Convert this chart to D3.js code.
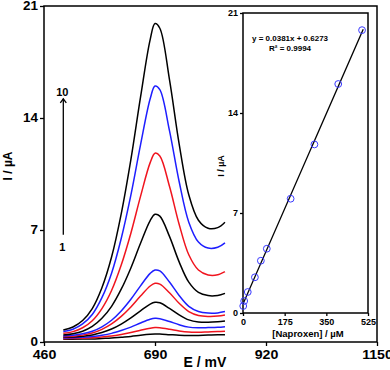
<!DOCTYPE html>
<html>
<head>
<meta charset="utf-8">
<script src="https://cdnjs.cloudflare.com/ajax/libs/d3/7.8.5/d3.min.js"></script>
<style>
body { margin: 0; background: #fff; }
text { font-family: Arial, "Liberation Sans", sans-serif; font-weight: bold; fill: #000; }
</style>
</head>
<body>
<div id="chart"></div>
<script>
// DPV curves, E in mV, I in uA (curve 1 = lowest ... curve 10 = highest)
var potentials = [500, 520, 540, 560, 580, 600, 620, 640, 660, 680, 690, 700, 720, 740, 760, 780, 800, 820, 835];
var curve1  = [0.17, 0.17, 0.18, 0.19, 0.22, 0.25, 0.30, 0.35, 0.42, 0.48, 0.50, 0.50, 0.46, 0.42, 0.40, 0.41, 0.43, 0.45, 0.46];
var curve2  = [0.21, 0.22, 0.23, 0.26, 0.31, 0.37, 0.47, 0.59, 0.73, 0.86, 0.90, 0.89, 0.80, 0.69, 0.62, 0.61, 0.63, 0.65, 0.67];
var curve3  = [0.25, 0.26, 0.29, 0.34, 0.42, 0.54, 0.72, 0.93, 1.19, 1.42, 1.48, 1.46, 1.28, 1.08, 0.93, 0.89, 0.90, 0.92, 0.96];
var curve4  = [0.29, 0.31, 0.36, 0.44, 0.59, 0.81, 1.12, 1.51, 1.95, 2.37, 2.48, 2.45, 2.10, 1.70, 1.38, 1.25, 1.23, 1.26, 1.31];
var curve5  = [0.33, 0.36, 0.43, 0.56, 0.79, 1.13, 1.60, 2.19, 2.87, 3.50, 3.67, 3.62, 3.08, 2.42, 1.90, 1.66, 1.60, 1.62, 1.69];
var curve6  = [0.38, 0.42, 0.51, 0.67, 0.95, 1.36, 1.94, 2.67, 3.51, 4.29, 4.50, 4.44, 3.75, 2.91, 2.23, 1.91, 1.81, 1.82, 1.90];
var curve7  = [0.44, 0.52, 0.67, 0.97, 1.48, 2.23, 3.30, 4.63, 6.17, 7.59, 7.98, 7.87, 6.60, 5.01, 3.74, 3.10, 2.90, 2.91, 3.04];
var curve8  = [0.54, 0.65, 0.89, 1.33, 2.09, 3.22, 4.81, 6.80, 9.10, 11.21, 11.80, 11.63, 9.73, 7.36, 5.45, 4.50, 4.19, 4.20, 4.40];
var curve9  = [0.65, 0.80, 1.13, 1.72, 2.77, 4.30, 6.47, 9.18, 12.32, 15.20, 16.00, 15.77, 13.21, 10.03, 7.49, 6.25, 5.87, 5.92, 6.20];
var curve10 = [0.75, 0.94, 1.34, 2.09, 3.39, 5.31, 8.01, 11.40, 15.30, 18.90, 19.90, 19.61, 16.40, 12.39, 9.20, 7.61, 7.11, 7.15, 7.49];
var curves = [curve1, curve2, curve3, curve4, curve5, curve6, curve7, curve8, curve9, curve10];

var xTicks = [460, 690, 920, 1150];
var yTicks = [0, 7, 14, 21];

// calibration inset
var concentrations = [1, 5, 20, 50, 75, 100, 200, 300, 400, 500];
var peakCurrents = [0.49, 0.84, 1.47, 2.5, 3.66, 4.5, 8.0, 11.8, 16.03, 19.8];
var insetXTicks = [0, 175, 350, 525];
var insetYTicks = [0, 7, 14, 21];
var fitSlope = 0.0381;
var fitIntercept = 0.6273;
var fitR2 = 0.9994;

var width = 390, height = 370;
var color = d3.scaleOrdinal().domain(d3.range(10))
    .range(["#000", "#f0141e", "#1e1eff", "#000", "#f0141e", "#1e1eff", "#000", "#f0141e", "#1e1eff", "#000"]);

var svg = d3.select("#chart").append("svg")
    .attr("width", width)
    .attr("height", height);

var x = d3.scaleLinear().domain([460, 1150]).range([44, 377]);
var y = d3.scaleLinear().domain([0, 21]).range([342, 6]);

function styleAxis(g, size) {
    g.select(".domain").remove();
    g.selectAll(".tick line").attr("stroke", "#000").attr("stroke-width", 1.3);
    g.selectAll(".tick text").style("font-size", size + "px");
}

// widen text a little, the source figure is stretched horizontally
function stretch(sel, k) {
    sel.each(function() {
        var w = this.getComputedTextLength();
        d3.select(this).attr("textLength", w * k).attr("lengthAdjust", "spacingAndGlyphs");
    });
}

// main frame
svg.append("rect")
    .attr("x", x(460)).attr("y", y(21))
    .attr("width", x(1150) - x(460)).attr("height", y(0) - y(21))
    .attr("fill", "none").attr("stroke", "#000").attr("stroke-width", 1.5);

var yAxis = svg.append("g")
    .attr("transform", "translate(" + x(460) + ",0)")
    .call(d3.axisLeft(y).tickValues(yTicks).tickSize(4).tickPadding(2))
    .call(styleAxis, 12);

var xAxis = svg.append("g")
    .attr("transform", "translate(0," + y(0) + ")")
    .call(d3.axisBottom(x).tickValues(xTicks).tickFormat(d3.format("d")).tickSize(4).tickPadding(4))
    .call(styleAxis, 12);

stretch(yAxis.selectAll(".tick text"), 1.12);
stretch(xAxis.selectAll(".tick text"), 1.18);

var line = d3.line()
    .x(function(d, i) { return x(potentials[i]); })
    .y(function(d) { return y(d); })
    .curve(d3.curveCatmullRom.alpha(0.5));

svg.append("g").selectAll("path")
    .data(curves)
    .enter().append("path")
    .attr("d", line)
    .attr("fill", "none")
    .attr("stroke", function(d, i) { return color(i); })
    .attr("stroke-width", 1.5);

// arrow 1 -> 10
var ax = x(500);
svg.append("line")
    .attr("x1", ax).attr("x2", ax)
    .attr("y1", y(6.7)).attr("y2", y(15.2))
    .attr("stroke", "#000").attr("stroke-width", 1.3);
svg.append("path")
    .attr("d", "M" + (ax - 3) + "," + (y(15.2) + 4) + "L" + ax + "," + y(15.2) + "L" + (ax + 3) + "," + (y(15.2) + 4))
    .attr("fill", "none").attr("stroke", "#000").attr("stroke-width", 1.3);
svg.append("text").attr("x", ax - 1).attr("y", y(15.2) - 3)
    .attr("text-anchor", "middle").style("font-size", "11px").text("10");
svg.append("text").attr("x", ax - 1).attr("y", y(6.7) + 16)
    .attr("text-anchor", "middle").style("font-size", "11px").text("1");

// axis titles
svg.append("text")
    .attr("x", 205).attr("y", 367)
    .attr("text-anchor", "middle").style("font-size", "14px")
    .text("E / mV");
svg.append("text")
    .attr("transform", "translate(12,166) rotate(-90)")
    .attr("text-anchor", "middle").style("font-size", "12px")
    .text("I / µA");

// inset
var ix = d3.scaleLinear().domain([0, 525]).range([243, 368]);
var iy = d3.scaleLinear().domain([0, 21]).range([313, 13]);

svg.append("rect")
    .attr("x", ix(0)).attr("y", iy(21))
    .attr("width", ix(525) - ix(0)).attr("height", iy(0) - iy(21))
    .attr("fill", "#fff").attr("stroke", "#000").attr("stroke-width", 1.5);

svg.append("g")
    .attr("transform", "translate(" + ix(0) + ",0)")
    .call(d3.axisLeft(iy).tickValues(insetYTicks).tickSize(3).tickPadding(2))
    .call(styleAxis, 9);

svg.append("g")
    .attr("transform", "translate(0," + iy(0) + ")")
    .call(d3.axisBottom(ix).tickValues(insetXTicks).tickSize(3).tickPadding(3))
    .call(styleAxis, 9);

svg.append("line")
    .attr("x1", ix(0)).attr("y1", iy(fitIntercept))
    .attr("x2", ix(505)).attr("y2", iy(fitSlope * 505 + fitIntercept))
    .attr("stroke", "#000").attr("stroke-width", 1.3);

svg.append("g").selectAll("circle")
    .data(concentrations)
    .enter().append("circle")
    .attr("cx", function(d) { return ix(d); })
    .attr("cy", function(d, i) { return iy(peakCurrents[i]); })
    .attr("r", 3.4)
    .attr("fill", "none")
    .attr("stroke", "#3a3aff")
    .attr("stroke-width", 1);

svg.append("text")
    .attr("x", 252).attr("y", 41)
    .style("font-size", "8px")
    .text("y = " + fitSlope + "x + " + fitIntercept);
svg.append("text")
    .attr("x", 269).attr("y", 51)
    .style("font-size", "8px")
    .text("R² = " + fitR2);

svg.append("text")
    .attr("x", 308).attr("y", 337)
    .attr("text-anchor", "middle").style("font-size", "9.5px")
    .text("[Naproxen] / µM");
svg.append("text")
    .attr("transform", "translate(224,166) rotate(-90)")
    .attr("text-anchor", "middle").style("font-size", "9px")
    .text("I / µA");
</script>
</body>
</html>
